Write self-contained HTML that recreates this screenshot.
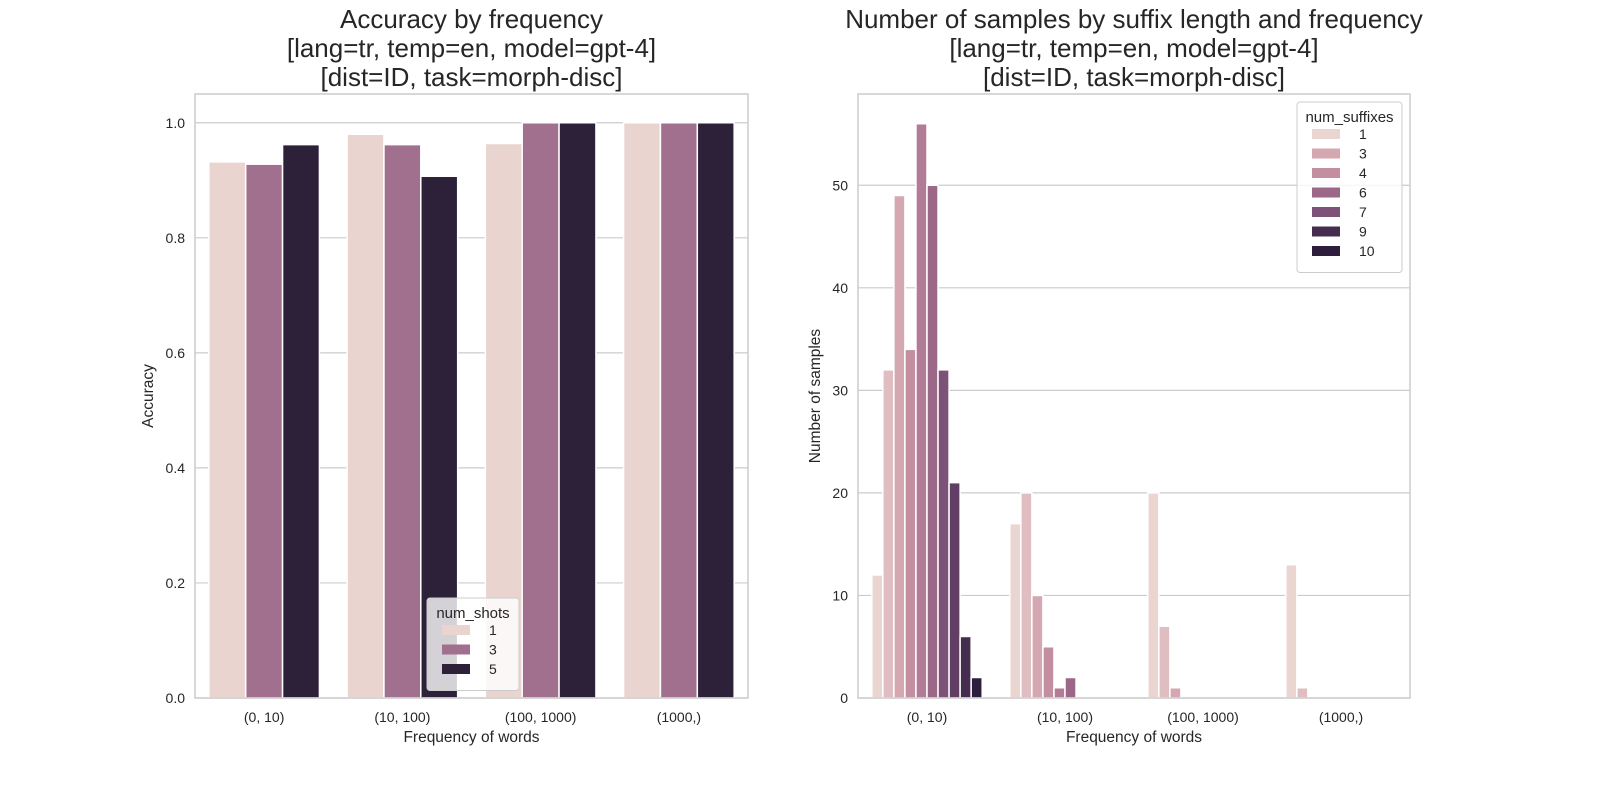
<!DOCTYPE html>
<html><head><meta charset="utf-8"><style>
html,body{margin:0;padding:0;background:#fff;}
svg{display:block;font-family:"Liberation Sans","DejaVu Sans",sans-serif;}
</style></head><body>
<svg id="chart" width="1600" height="800" viewBox="0 0 1600 800"></svg>
<script>
// Left chart data
const leftCategories = ["(0, 10)", "(10, 100)", "(100, 1000)", "(1000,)"];
const leftHues = ["1", "3", "5"];
const leftValues = [
  [0.932, 0.980, 0.964, 1.0],
  [0.928, 0.962, 1.0, 1.0],
  [0.962, 0.907, 1.0, 1.0]
];
const leftTicks = [0, 0.2, 0.4, 0.6, 0.8, 1.0];

// Right chart data
const rightCategories = ["(0, 10)", "(10, 100)", "(100, 1000)", "(1000,)"];
const rightHues = [1,2,3,4,5,6,7,8,9,10];
const rightLegend = ["1","3","4","6","7","9","10"];
const rightValues = [
  [12, 17, 20, 13],
  [32, 20, 7, 1],
  [49, 10, 1, 0],
  [34, 5, 0, 0],
  [56, 1, 0, 0],
  [50, 2, 0, 0],
  [32, 0, 0, 0],
  [21, 0, 0, 0],
  [6, 0, 0, 0],
  [2, 0, 0, 0]
];
const rightTicks = [0, 10, 20, 30, 40, 50];

const leftColors = ["#e9d4d0", "#a0708e", "#2d213a"];
const rightColors = ["#ead5d1","#dfbdc0","#d4a7b1","#c38ea0","#b27b96","#9b6888","#7d5278","#613f64","#452d4f","#2d1e3e"];

const NS = "http://www.w3.org/2000/svg";
const svg = document.getElementById("chart");
function mk(tag, attrs, parent, text){
  const e = document.createElementNS(NS, tag);
  for (const k in attrs) e.setAttribute(k, attrs[k]);
  if (text !== undefined) e.textContent = text;
  (parent || svg).appendChild(e);
  return e;
}

function drawPanel(o){
  const g = mk("g", {});
  
  
  const x0 = o.x0, x1 = o.x1, yTop = 94, yBot = 698;
  const yScale = v => yBot - (v / o.yMax) * (yBot - yTop);
  const step = (x1 - x0) / o.categories.length;
  const xCenter = i => x0 + step * (i + 0.5);
  // grid
  o.ticks.forEach(t => {
    const y = yScale(t);
    const ln = mk("line", {x1:x0, x2:x1, y1:y, y2:y, stroke:"#cccccc", "stroke-width":1.2}, g);
    
    
    const tx = mk("text", {x:x0-10, y:y+5, "text-anchor":"end", "font-size":14, fill:"#262626"}, g, o.tickFmt(t));
    
    
  });
  // bars
  const nH = o.values.length;
  const bw = step * 0.8 / nH;
  o.values.forEach((series, h) => {
    series.forEach((v, i) => {
      if (v <= 0) return;
      const x = xCenter(i) - step * 0.4 + h * bw;
      const y = yScale(v);
      const r = mk("rect", {x:x, y:y, width:bw, height:yBot - y, fill:o.colors[h], stroke:"#ffffff", "stroke-width":1.5}, g);
      
      
    });
  });
  // axes frame
  const fr = mk("rect", {x:x0, y:yTop, width:x1-x0, height:yBot-yTop, fill:"none", stroke:"#cccccc", "stroke-width":1.5}, g);
  
  
  o.categories.forEach((c, i) => {
    const t = mk("text", {x:xCenter(i), y:722, "text-anchor":"middle", "font-size":14, fill:"#262626"}, g, c);
    
    
  });
  const xt = mk("text", {x:(x0+x1)/2, y:742, "text-anchor":"middle", "font-size":15.5, fill:"#262626"}, g, "Frequency of words");
  
  
  const yx = o.yTitleX, yy = (yTop+yBot)/2;
  const yt = mk("text", {x:yx, y:yy, "text-anchor":"middle", "font-size":15.5, fill:"#262626", transform:"rotate(-90 "+yx+" "+yy+")"}, g, o.yTitle);
  
  
  const cx = (x0+x1)/2;
  o.title.forEach((line, k) => {
    const t = mk("text", {x:cx, y:28 + k*29, "text-anchor":"middle", "font-size":26, fill:"#262626"}, g, line);
    
    
  });
  return g;
}

const gl = drawPanel({name:"accuracy-chart", x0:195, x1:748, yMax:1.05, categories:leftCategories, values:leftValues, colors:leftColors, ticks:leftTicks, tickFmt:t=>t.toFixed(1), yTitle:"Accuracy", yTitleX:153, title:["Accuracy by frequency","[lang=tr, temp=en, model=gpt-4]","[dist=ID, task=morph-disc]"]});
const gr = drawPanel({name:"samples-chart", x0:858, x1:1410, yMax:58.9, categories:rightCategories, values:rightValues, colors:rightColors, ticks:rightTicks, tickFmt:t=>String(t), yTitle:"Number of samples", yTitleX:820, title:["Number of samples by suffix length and frequency","[lang=tr, temp=en, model=gpt-4]","[dist=ID, task=morph-disc]"]});

function legend(g, x, y, w, title, labels, colors){
  const lg = mk("g", {}, g);
  
  
  const h = 34 + labels.length * 19.5;
  mk("rect", {x:x, y:y, width:w, height:h, rx:3, fill:"#ffffff", "fill-opacity":0.8, stroke:"#cccccc", "stroke-width":1}, lg);
  mk("text", {x:x+w/2, y:y+20, "text-anchor":"middle", "font-size":15, fill:"#262626"}, lg, title);
  labels.forEach((l, i) => {
    const yy = y + 36 + i * 19.5;
    const e = mk("g", {}, lg);
    
    
    mk("rect", {x:x+15, y:yy-9, width:28, height:10, fill:colors[i]}, e);
    mk("text", {x:x+62, y:yy+1, "font-size":14, fill:"#262626"}, e, l);
  });
}
legend(gl, 427, 598, 92, "num_shots", leftHues, leftColors);
const legColors = rightLegend.map(l => rightColors[rightHues.indexOf(+l)]);
legend(gr, 1297, 102, 105, "num_suffixes", rightLegend, legColors);
</script>
</body></html>
